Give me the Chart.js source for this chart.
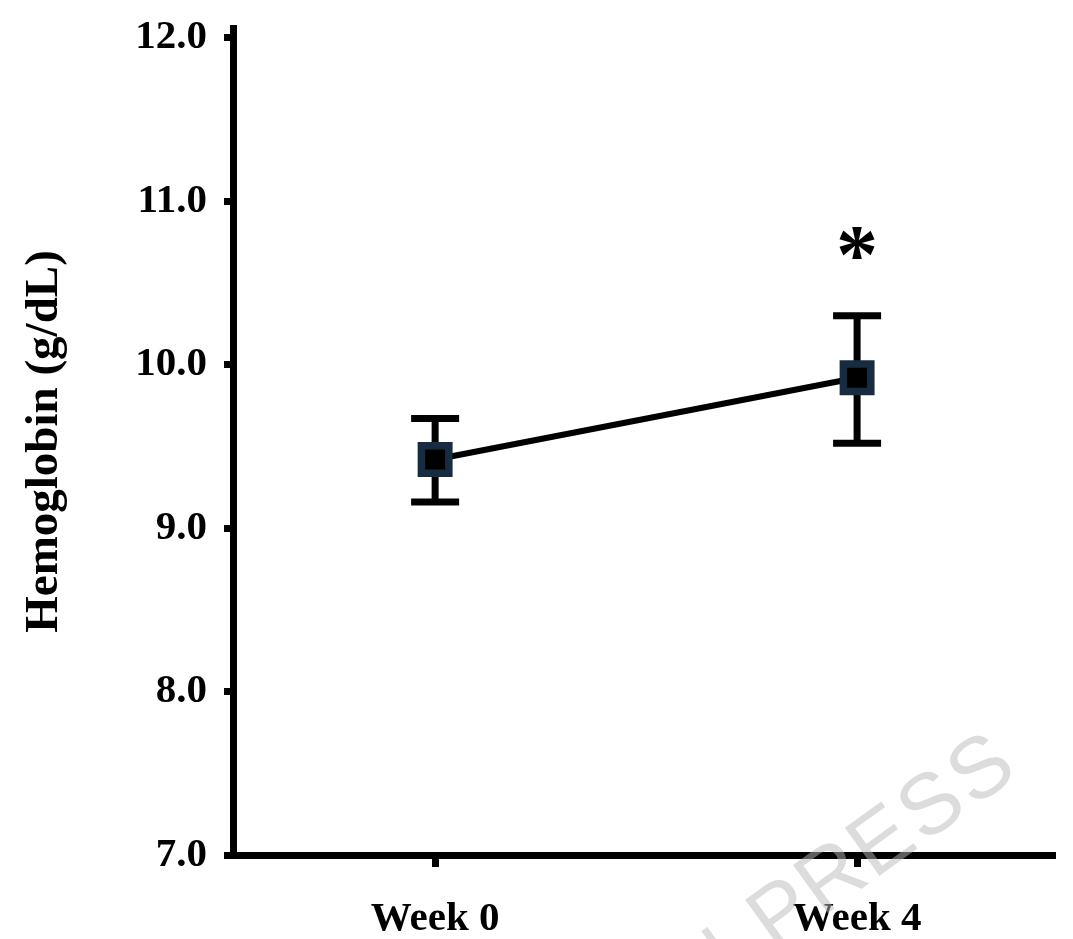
<!DOCTYPE html>
<html>
<head>
<meta charset="utf-8">
<script src="https://cdn.jsdelivr.net/npm/chart.js@4.4.1/dist/chart.umd.min.js"></script>
<style>
  html, body { margin: 0; padding: 0; background: #ffffff; }
  #wrap { width: 1073px; height: 939px; }
</style>
</head>
<body>
<div id="wrap"><canvas id="c" width="1073" height="939"></canvas></div>
<script>
// ---- data ----
const categories = ['Week 0', 'Week 4'];
const xPositions = [0, 1];
const meanHb = [9.42, 9.92];
const upperHb = [9.67, 10.30];
const lowerHb = [9.16, 9.52];
const sigMarks = ['', '*'];
const yTicks = [7, 8, 9, 10, 11, 12];
const yTitle = 'Hemoglobin (g/dL)';
const watermarkText = 'IN PRESS';

const SERIF = '"Liberation Serif", "Times New Roman", serif';

// keep edge labels from adding extra margins to the plot area
const noEdgePadding = (s) => {
  s._calculatePadding = function () {
    this.paddingLeft = 0; this.paddingRight = 0;
    this.paddingTop = 0; this.paddingBottom = 0;
  };
};

const errorBarPlugin = {
  id: 'errorBars',
  beforeDatasetsDraw(chart) {
    const { ctx, scales: { x, y } } = chart;
    ctx.save();
    ctx.strokeStyle = '#000';
    ctx.lineWidth = 7;
    ctx.lineCap = 'butt';
    xPositions.forEach((xv, i) => {
      const px = x.getPixelForValue(xv);
      const pTop = y.getPixelForValue(upperHb[i]);
      const pBot = y.getPixelForValue(lowerHb[i]);
      ctx.beginPath();
      ctx.moveTo(px, pTop); ctx.lineTo(px, pBot);
      ctx.moveTo(px - 24, pTop); ctx.lineTo(px + 24, pTop);
      ctx.moveTo(px - 24, pBot); ctx.lineTo(px + 24, pBot);
      ctx.stroke();
    });
    ctx.restore();
  },
  afterDatasetsDraw(chart) {
    const { ctx, scales: { x, y } } = chart;
    ctx.save();
    ctx.fillStyle = '#000';
    ctx.font = 'bold 84px ' + SERIF;
    ctx.textAlign = 'center';
    ctx.textBaseline = 'alphabetic';
    xPositions.forEach((xv, i) => {
      if (!sigMarks[i]) return;
      const m = ctx.measureText(sigMarks[i]);
      const px = x.getPixelForValue(xv);
      const centerY = y.getPixelForValue(upperHb[i]) - 73;
      const base = centerY + (m.actualBoundingBoxAscent - m.actualBoundingBoxDescent) / 2;
      ctx.fillText(sigMarks[i], px, base);
    });
    ctx.restore();
  },
  afterDraw(chart) {
    // faint rotated watermark, partly outside the picture
    const { ctx } = chart;
    ctx.save();
    ctx.fillStyle = 'rgba(185,185,185,0.5)';
    ctx.font = '86px "Liberation Sans", Arial, sans-serif';
    ctx.textAlign = 'center';
    ctx.textBaseline = 'middle';
    const ang = -35.8 * Math.PI / 180;
    const dx = Math.cos(ang), dy = Math.sin(ang);
    const endX = 983, endY = 772, step = 61.5;
    const offs = [-6.4, -5.5, null, -4, -3, -2, -1, 0];
    for (let i = 0; i < watermarkText.length; i++) {
      const k = offs[i];
      if (k === null) continue;
      ctx.save();
      ctx.translate(endX + dx * step * k, endY + dy * step * k);
      ctx.rotate(ang);
      ctx.fillText(watermarkText[i], 0, 0);
      ctx.restore();
    }
    ctx.restore();
  }
};

new Chart(document.getElementById('c'), {
  type: 'line',
  data: {
    datasets: [{
      data: xPositions.map((xv, i) => ({ x: xv, y: meanHb[i] })),
      borderColor: '#000',
      borderWidth: 6,
      pointStyle: 'rect',
      pointRadius: 19.4,
      pointHoverRadius: 19.4,
      pointBorderWidth: 7.5,
      pointBackgroundColor: '#000',
      pointBorderColor: '#172c40',
      tension: 0,
      fill: false
    }]
  },
  options: {
    responsive: false,
    animation: false,
    devicePixelRatio: 1,
    layout: { autoPadding: false, padding: { left: 0, right: 18, top: 28, bottom: 0 } },
    plugins: { legend: { display: false }, tooltip: { enabled: false } },
    scales: {
      x: {
        type: 'linear',
        min: -0.479,
        max: 1.469,
        afterBuildTicks: (s) => { s.ticks = xPositions.map(v => ({ value: v })); },
        beforeFit: noEdgePadding,
        afterFit: (s) => { s.height = 84; },
        ticks: {
          callback: (v) => categories[xPositions.indexOf(v)],
          color: '#000',
          font: { family: SERIF, size: 41, weight: 'bold', lineHeight: '105px' },
          padding: 0,
          maxRotation: 0
        },
        grid: { display: true, drawOnChartArea: false, drawTicks: true, tickLength: 12, tickWidth: 7, tickColor: '#000' },
        border: { display: true, color: '#000', width: 7 }
      },
      y: {
        type: 'linear',
        min: 7,
        max: 12.06,
        afterBuildTicks: (s) => { s.ticks = yTicks.map(v => ({ value: v })); },
        beforeFit: noEdgePadding,
        afterFit: (s) => { s.width = 233; },
        ticks: {
          callback: (v) => Number(v).toFixed(1),
          color: '#000',
          font: { family: SERIF, size: 41, weight: 'bold', lineHeight: 1.2 },
          padding: 17
        },
        grid: { display: true, drawOnChartArea: false, drawTicks: true, tickLength: 9, tickWidth: 7, tickColor: '#000' },
        border: { display: true, color: '#000', width: 7 },
        title: {
          display: true,
          text: yTitle,
          color: '#000',
          font: { family: SERIF, size: 47, weight: 'bold', lineHeight: 1.2 },
          padding: { top: 17, bottom: 10 }
        }
      }
    }
  },
  plugins: [errorBarPlugin]
});
</script>
</body>
</html>
